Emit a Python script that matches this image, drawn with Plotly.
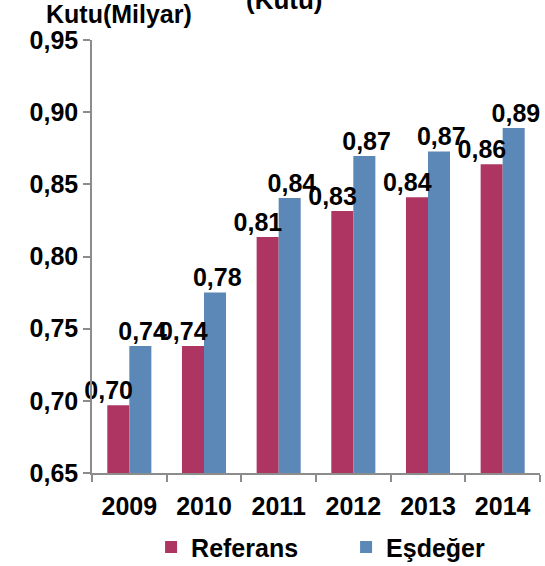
import plotly.graph_objects as go

years = ["2009", "2010", "2011", "2012", "2013", "2014"]
referans = [0.697, 0.738, 0.8135, 0.8315, 0.841, 0.864]
esdeger = [0.738, 0.775, 0.8406, 0.8697, 0.8727, 0.889]
y_ticks = [0.65, 0.70, 0.75, 0.80, 0.85, 0.90, 0.95]

FONT = "Liberation Sans, Arial, sans-serif"
RED = "#AE3461"
BLUE = "#5B88B6"
FS = 25
BARGAP = 0.41

bold = dict(family=FONT, size=FS, color="black", weight="bold")
axis_style = dict(
    showgrid=False, zeroline=False, automargin=False,
    showline=True, linecolor="#8C8C8C", linewidth=1.5,
    ticks="outside", ticklen=7, tickcolor="#8C8C8C", tickwidth=1.5,
    tickfont=bold,
)

fig = go.Figure()
fig.add_trace(go.Bar(x=years, y=referans, name="Referans", marker_color=RED,
                     marker_line_width=0))
fig.add_trace(go.Bar(x=years, y=esdeger, name="Eşdeğer", marker_color=BLUE,
                     marker_line_width=0))

# value labels drawn on an overlaying numeric axis so they sit above all bars
half = (1 - BARGAP) / 4  # centre offset of each bar within its group
idx = list(range(len(years)))
fig.add_trace(go.Scatter(
    x=[i - half - 0.13 for i in idx], y=referans, xaxis="x2", mode="text",
    text=[f"{v:.2f}".replace(".", ",") for v in referans],
    textposition="top center", textfont=bold, showlegend=False,
    cliponaxis=False, hoverinfo="skip"))
fig.add_trace(go.Scatter(
    x=[i + half + 0.03 for i in idx], y=esdeger, xaxis="x2", mode="text",
    text=[f"{v:.2f}".replace(".", ",") for v in esdeger],
    textposition="top center", textfont=bold, showlegend=False,
    cliponaxis=False, hoverinfo="skip"))

fig.update_layout(
    width=545, height=566,
    margin=dict(l=92, r=5, t=40, b=93, autoexpand=False),
    paper_bgcolor="white", plot_bgcolor="white",
    separators=", ",
    barmode="group", bargap=BARGAP, bargroupgap=0,
    font=bold,
    showlegend=True,
    legend=dict(orientation="h", xref="container", yref="container",
                x=0.635, xanchor="center", y=0.033, yanchor="middle",
                font=bold, entrywidth=150, itemwidth=30),
    xaxis2=dict(overlaying="x", range=[-0.5, len(years) - 0.5], visible=False),
    annotations=[
        dict(text="Kutu(Milyar)", x=(119 - 92) / 448, xref="paper", y=1.023, yref="paper",
             xanchor="center", yanchor="bottom", showarrow=False, font=bold),
        dict(text="(Kutu)", x=(284 - 92) / 448, xref="paper", y=1.054, yref="paper",
             xanchor="center", yanchor="bottom", showarrow=False,
             font=dict(family=FONT, size=26, color="black", weight="bold")),
    ],
)

fig.layout.yaxis.update(range=[0.65, 0.95], tickvals=y_ticks, tickformat=".2f",
                        ticklabelstandoff=0, **axis_style)
fig.layout.xaxis.update(tickson="boundaries", ticklabelstandoff=10, **axis_style)

fig.write_html("out.html", config={"displayModeBar": False},
               post_script="document.body.style.margin='0';")
